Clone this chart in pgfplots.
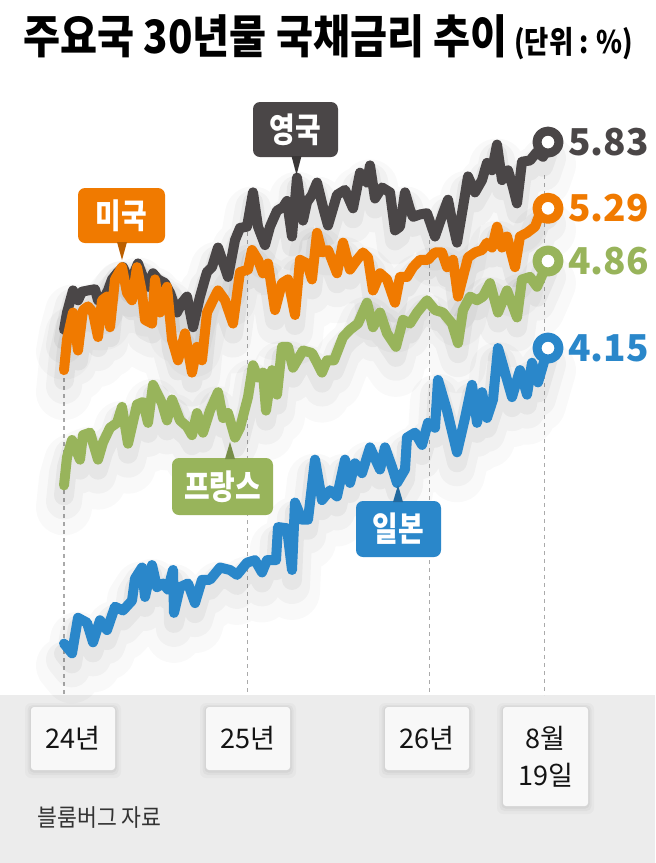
\documentclass[border=0pt]{standalone}
\usepackage{fontspec}
\setmainfont{Noto Sans CJK KR}
\usepackage{graphicx}
\usepackage{pgfplots}
\pgfplotsset{compat=1.18}
\usepackage{pgfplotstable}

\definecolor{ukc}{HTML}{4A4647}
\definecolor{usc}{HTML}{F07A00}
\definecolor{frc}{HTML}{98B45B}
\definecolor{jpc}{HTML}{2A87CA}
\definecolor{band}{HTML}{ECECEC}
\definecolor{tickbox}{HTML}{F8F8F8}
\definecolor{dashc}{HTML}{AAAAAA}

% x = days since 1 Jan 2024, y = 30-year yield (%)
\pgfplotstableread{
x y
0 4.30
6 4.44
18 4.62
28 4.54
36 4.61
48 4.62
62 4.63
68 4.54
78 4.54
88 4.62
96 4.71
106 4.76
118 4.81
132 4.68
148 4.84
158 4.73
168 4.65
178 4.76
188 4.71
202 4.68
212 4.60
226 4.44
236 4.52
246 4.57
258 4.32
272 4.57
286 4.77
296 4.81
308 4.97
318 4.85
328 4.73
342 5.03
352 5.13
366 5.14
378 5.42
388 5.14
402 4.99
412 5.14
426 5.27
438 5.30
446 5.35
456 5.06
466 5.54
478 5.19
486 5.34
496 5.40
506 5.50
518 5.30
528 5.15
546 5.40
562 5.44
578 5.29
592 5.58
606 5.50
612 5.64
622 5.37
636 5.46
652 5.42
662 5.11
672 5.14
682 5.42
692 5.28
698 5.22
712 5.24
726 5.25
742 5.06
758 5.25
768 5.36
776 5.19
786 5.01
798 5.30
808 5.55
822 5.42
836 5.52
846 5.66
856 5.60
866 5.81
876 5.52
888 5.60
898 5.46
906 5.33
916 5.67
932 5.68
946 5.75
958 5.71
968 5.83
}\uk

\pgfplotstableread{
x y
0 3.97
6 4.22
18 4.44
28 4.13
38 4.46
48 4.49
58 4.44
68 4.24
76 4.54
86 4.57
92 4.32
102 4.71
116 4.81
126 4.60
136 4.54
146 4.81
156 4.60
162 4.38
176 4.35
182 4.71
192 4.44
206 4.65
216 4.22
228 4.05
242 4.27
256 3.95
266 4.16
276 4.05
286 4.44
298 4.54
308 4.62
322 4.54
338 4.35
352 4.77
368 4.79
376 4.95
388 4.87
398 4.76
408 4.84
422 4.46
436 4.68
448 4.71
462 4.42
472 4.87
486 4.84
496 4.71
506 5.09
516 4.93
528 4.95
546 4.76
558 5.01
572 4.79
586 4.87
598 4.93
608 4.89
618 4.62
632 4.76
646 4.71
662 4.52
672 4.73
686 4.73
698 4.81
712 4.87
728 4.87
742 4.93
756 4.93
766 4.81
778 4.87
788 4.57
798 4.73
808 4.89
822 4.93
836 4.95
846 5.01
856 4.97
866 5.14
876 4.97
886 5.06
902 4.81
912 5.06
926 5.09
942 5.14
952 5.25
968 5.29
}\us

\pgfplotstableread{
x y
0 3.03
6 3.26
16 3.40
32 3.24
38 3.44
52 3.46
68 3.24
78 3.38
92 3.50
106 3.54
116 3.67
128 3.37
146 3.69
158 3.71
168 3.54
178 3.85
196 3.70
206 3.56
216 3.73
232 3.56
246 3.51
256 3.44
266 3.62
278 3.46
292 3.64
308 3.79
318 3.58
328 3.62
342 3.42
352 3.50
368 3.75
378 4.01
388 3.91
398 3.95
404 3.64
416 3.97
426 3.77
436 4.16
448 4.16
458 3.99
478 4.13
496 4.11
516 3.95
526 4.05
540 4.05
558 4.24
572 4.30
588 4.35
606 4.52
618 4.32
632 4.44
646 4.27
664 4.16
678 4.38
692 4.35
706 4.44
726 4.54
742 4.46
758 4.44
776 4.35
788 4.19
798 4.46
812 4.57
826 4.54
838 4.57
852 4.68
868 4.44
886 4.62
906 4.40
916 4.71
932 4.73
946 4.65
958 4.76
968 4.86
}\fr

\pgfplotstableread{
x y
0 1.74
16 1.66
28 1.95
46 1.91
58 1.75
72 1.93
86 1.85
102 2.04
118 2.01
136 2.09
142 2.27
156 2.36
162 2.12
176 2.38
186 2.20
198 2.23
208 2.18
218 2.34
220 1.99
232 2.20
248 2.23
262 2.07
276 2.26
292 2.26
312 2.36
332 2.34
346 2.30
366 2.40
382 2.42
396 2.32
406 2.42
424 2.42
428 2.69
446 2.68
456 2.34
462 2.89
476 2.75
488 2.75
502 3.24
516 2.91
532 2.99
546 2.94
562 3.24
572 3.05
582 3.21
596 3.13
612 3.34
632 3.16
642 3.34
656 3.18
666 3.05
682 3.16
686 3.42
702 3.46
716 3.36
728 3.54
742 3.50
748 3.89
766 3.64
786 3.30
802 3.58
816 3.85
826 3.54
836 3.79
846 3.58
858 3.73
868 4.15
882 3.95
896 3.75
912 3.97
926 3.77
936 4.03
948 3.87
968 4.15
}\jp

\newcommand{\shadowplot}[1]{%
  \addplot[black, opacity=0.022, line width=28pt, transform canvas={yshift=-11pt}, forget plot] table {#1};
  \addplot[black, opacity=0.032, line width=18pt, transform canvas={yshift=-8pt}, forget plot] table {#1};
  \addplot[black, opacity=0.045, line width=10pt, transform canvas={yshift=-5pt}, forget plot] table {#1};
}
\newcommand{\tickbox}[4]{%
  \fill[black, opacity=0.025, rounded corners=3pt] (#1-6,#2-4) rectangle (#3+6,#4+8);
  \fill[black, opacity=0.03, rounded corners=2.5pt] (#1-3.5,#2-2) rectangle (#3+3.5,#4+5);
  \fill[black, opacity=0.04, rounded corners=2pt] (#1-1.5,#2-0.5) rectangle (#3+1.5,#4+2.5);
  \fill[tickbox, rounded corners=1.5pt] (#1,#2) rectangle (#3,#4);
}
\newcommand{\tagbox}[9]{% color, x1,y1,x2,y2, tipx, tipy, text, triangle base y
  \fill[#1, rounded corners=3.5pt] (#2,#3) rectangle (#4,#5);
  \fill[#1!78!black] (#6-5,#9) -- (#6+5,#9) -- (#6,#7) -- cycle;
  \node[text=white, inner sep=0, font=\bfseries\fontsize{17pt}{17pt}\selectfont] at ({(#2+#4)/2},{(#3+#5)/2}) {\scalebox{0.82}[1]{#8}};
}

\begin{document}
\begin{tikzpicture}
\begin{scope}[x=0.5pt,y=-0.5pt]
  \fill[white] (0,0) rectangle (655,863);
  \fill[band] (0,695) rectangle (655,863);
  \foreach \xx/\yy in {64/330,247.5/232,429.5/232,544.5/175}
    \draw[dashc, line width=0.8pt, dash pattern=on 2pt off 2pt] (\xx,\yy) -- (\xx,695);
\end{scope}

\begin{axis}[at={(0,0)}, anchor=north west, scale only axis,
  width=327.5pt, height=431.5pt,
  xmin=-128, xmax=1182, ymin=-0.050, ymax=6.989,
  hide axis,
  every axis plot/.append style={line join=round, line cap=round, mark=none}]
  \shadowplot{\uk}
  \shadowplot{\us}
  \shadowplot{\fr}
  \shadowplot{\jp}
  \addplot[ukc, line width=5pt] table {\uk};
  \addplot[usc, line width=5pt] table {\us};
  \addplot[frc, line width=5pt] table {\fr};
  \addplot[jpc, line width=5pt] table {\jp};
  \addplot[only marks, mark=*, mark size=5.5pt, mark options={fill=white, draw=ukc, line width=4.5pt}] coordinates {(968,5.83)};
  \addplot[only marks, mark=*, mark size=5.5pt, mark options={fill=white, draw=usc, line width=4.5pt}] coordinates {(968,5.29)};
  \addplot[only marks, mark=*, mark size=5.5pt, mark options={fill=white, draw=frc, line width=4.5pt}] coordinates {(968,4.86)};
  \addplot[only marks, mark=*, mark size=5.5pt, mark options={fill=white, draw=jpc, line width=4.5pt}] coordinates {(968,4.15)};
  \node[anchor=west, inner sep=0, xshift=10pt, text=ukc, font=\bfseries\fontsize{18.5pt}{18.5pt}\selectfont] at (axis cs:968,5.83) {5.83};
  \node[anchor=west, inner sep=0, xshift=10pt, text=usc, font=\bfseries\fontsize{18.5pt}{18.5pt}\selectfont] at (axis cs:968,5.29) {5.29};
  \node[anchor=west, inner sep=0, xshift=10pt, text=frc, font=\bfseries\fontsize{18.5pt}{18.5pt}\selectfont] at (axis cs:968,4.86) {4.86};
  \node[anchor=west, inner sep=0, xshift=10pt, text=jpc, font=\bfseries\fontsize{18.5pt}{18.5pt}\selectfont] at (axis cs:968,4.15) {4.15};
\end{axis}

\begin{scope}[x=0.5pt,y=-0.5pt]
  % title
  \node[anchor=base west, inner sep=0] at (23,53)
    {\scalebox{0.875}[1]{\fontsize{23pt}{23pt}\selectfont\bfseries 주요국 30년물 국채금리 추이}};
  \node[anchor=base west, inner sep=0] at (514,53)
    {\scalebox{0.85}[1]{\fontsize{15.5pt}{15.5pt}\selectfont\bfseries (단위 : \%)}};
  % series tags
  \tagbox{ukc}{253}{102}{338}{157}{296.5}{175}{영국}{156}
  \tagbox{usc}{78}{188}{165}{243}{122}{260}{미국}{242}
  \tagbox{frc}{172}{458}{273}{515}{230}{442}{프랑스}{459}
  \tagbox{jpc}{356}{501}{441}{557}{398}{485}{일본}{502}
  % x tick boxes
  \tickbox{31}{707}{115}{770}
  \tickbox{206}{707}{290}{770}
  \tickbox{385}{707}{469}{770}
  \tickbox{503}{707}{588}{806}
  \begin{scope}[every node/.style={inner sep=0, text=black!92, font=\fontsize{13.5pt}{14pt}\selectfont}]
    \node at (73,738) {24년};
    \node at (248,738) {25년};
    \node at (427,738) {26년};
    \node at (545.5,738) {8월};
    \node at (545.5,775) {19일};
  \end{scope}
  \node[anchor=west, inner sep=0, text=black!80] at (37,818)
    {\scalebox{0.9}[1]{\fontsize{12pt}{12pt}\selectfont 블룸버그 자료}};
\end{scope}
\end{tikzpicture}
\end{document}
